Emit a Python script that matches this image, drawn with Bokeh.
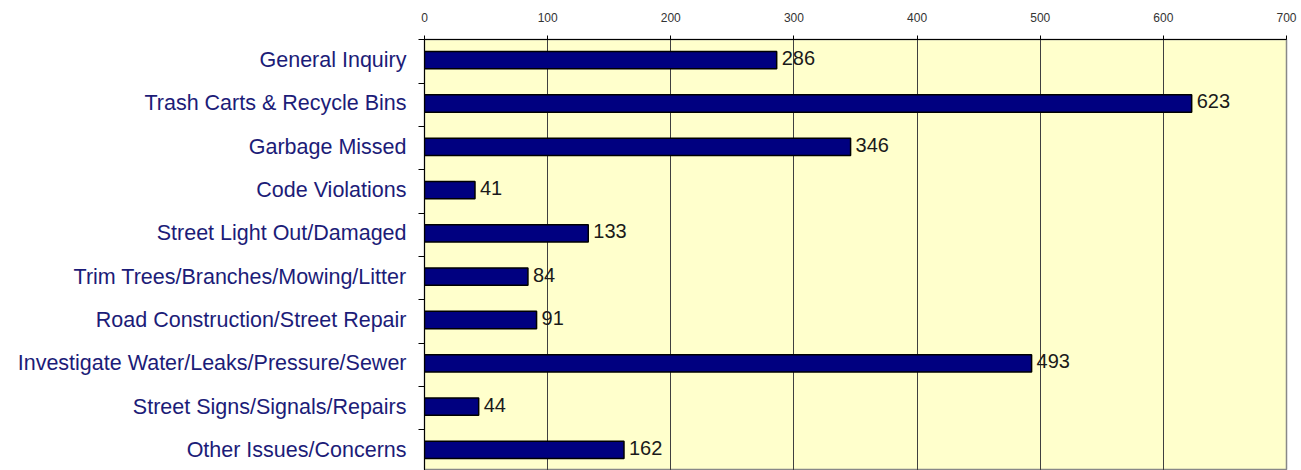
from bokeh.plotting import figure
from bokeh.models import Range1d, LinearAxis, FixedTicker, ColumnDataSource
from bokeh.core.properties import value
from bokeh.embed import file_html
from bokeh.resources import INLINE

categories = [
    "General Inquiry",
    "Trash Carts & Recycle Bins",
    "Garbage Missed",
    "Code Violations",
    "Street Light Out/Damaged",
    "Trim Trees/Branches/Mowing/Litter",
    "Road Construction/Street Repair",
    "Investigate Water/Leaks/Pressure/Sewer",
    "Street Signs/Signals/Repairs",
    "Other Issues/Concerns",
]
counts = [286, 623, 346, 41, 133, 84, 91, 493, 44, 162]
x_ticks = [0, 100, 200, 300, 400, 500, 600, 700]

n = len(categories)
centers = [i + 0.5 for i in range(n)]
boundaries = [i + 0.033 for i in range(n + 1)]

src = ColumnDataSource(dict(y=centers, v=counts, lab=[str(c) for c in counts]))

p = figure(width=1298, height=470, output_backend="svg", toolbar_location=None,
           x_range=Range1d(0, 700), y_range=Range1d(9.976, 0.022),
           x_axis_location=None, y_axis_location=None,
           min_border_left=424, min_border_right=12, min_border_top=39,
           min_border_bottom=0)
p.background_fill_color = "#FFFFCC"
p.border_fill_color = "white"
p.outline_line_color = "#888888"
p.outline_line_width = 1.5

# top axis
xa = LinearAxis(ticker=FixedTicker(ticks=x_ticks))
xa.axis_line_color = "black"
xa.major_tick_line_color = "black"
xa.major_tick_out = 4
xa.major_tick_in = 0
xa.minor_tick_line_color = None
xa.major_label_standoff = 14
xa.major_label_text_font = "Liberation Sans"
xa.major_label_text_font_size = "12px"
xa.major_label_text_color = "#333333"
p.add_layout(xa, "above")

# left axis
ya = LinearAxis(ticker=FixedTicker(ticks=centers, minor_ticks=boundaries))
ya.major_label_overrides = {c: name for c, name in zip(centers, categories)}
ya.axis_line_color = "black"
ya.major_tick_line_color = None
ya.major_tick_out = 0
ya.minor_tick_line_color = "black"
ya.minor_tick_out = 6
ya.minor_tick_in = 0
ya.major_label_standoff = 12
ya.major_label_text_font = "Liberation Sans"
ya.major_label_text_font_size = "21.5px"
ya.major_label_text_color = "#1C1C78"
p.add_layout(ya, "left")

p.xgrid.ticker = FixedTicker(ticks=x_ticks[1:-1])
p.xgrid.grid_line_color = "#404040"
p.xgrid.grid_line_width = 1
p.ygrid.grid_line_color = None

p.hbar(y="y", right="v", left=0, height=0.4, source=src,
       fill_color="#000080", line_color="black", line_width=1.5)
p.text(x="v", y="y", text="lab", source=src, x_offset=5, y_offset=-2,
       text_baseline="middle", text_align="left",
       text_font=value("Liberation Sans"), text_font_size="20px",
       text_color="#1a1a1a")

open("out.html", "w").write(file_html(p, INLINE))
